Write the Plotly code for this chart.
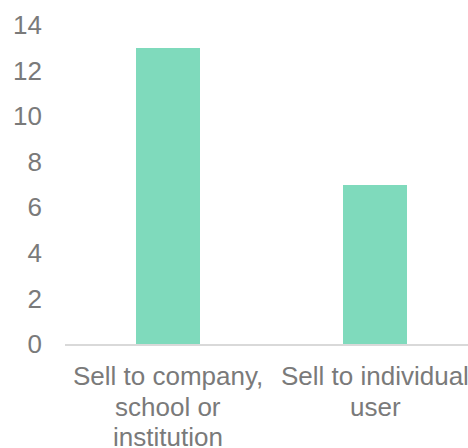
import plotly.graph_objects as go

categories = ["Sell to company,<br>school or<br>institution", "Sell to individual<br>user"]
values = [13, 7]
y_ticks = [0, 2, 4, 6, 8, 10, 12, 14]

bar_color = "#7fdabc"
text_color = "#7a7a7a"
font_family = "Liberation Sans, Arial, sans-serif"

fig = go.Figure(
    go.Bar(x=categories, y=values, marker=dict(color=bar_color, line=dict(width=0)), width=0.31)
)

# category labels, one annotation per line for tighter line spacing
for cat in categories:
    for i, line in enumerate(cat.split("<br>")):
        fig.add_annotation(
            x=cat, y=0, xref="x", yref="y", text=line, showarrow=False,
            yanchor="middle", xanchor="center", yshift=-(32 + 30.5 * i),
            font=dict(family=font_family, size=26, color=text_color),
        )

fig.update_layout(
    width=468, height=448,
    margin=dict(l=65, r=0, t=25, b=104, pad=0),
    plot_bgcolor="white", paper_bgcolor="white",
    font=dict(family=font_family, size=26, color=text_color),
    showlegend=False,
    bargap=0,
)
fig.update_xaxes(
    type="category", range=[-0.5, 1.449], showgrid=False, zeroline=False,
    showline=True, linecolor="#d9d9d9", linewidth=2, ticks="",
    showticklabels=False, automargin=False,
)
fig.update_yaxes(
    range=[0, 14], tickvals=y_ticks, showgrid=False, zeroline=False, showline=False,
    ticks="", automargin=False, ticklabelstandoff=22,
)

fig.write_html(
    "out.html",
    config={"displayModeBar": False},
    post_script="document.body.style.margin='0px';document.body.style.overflow='hidden';",
)
